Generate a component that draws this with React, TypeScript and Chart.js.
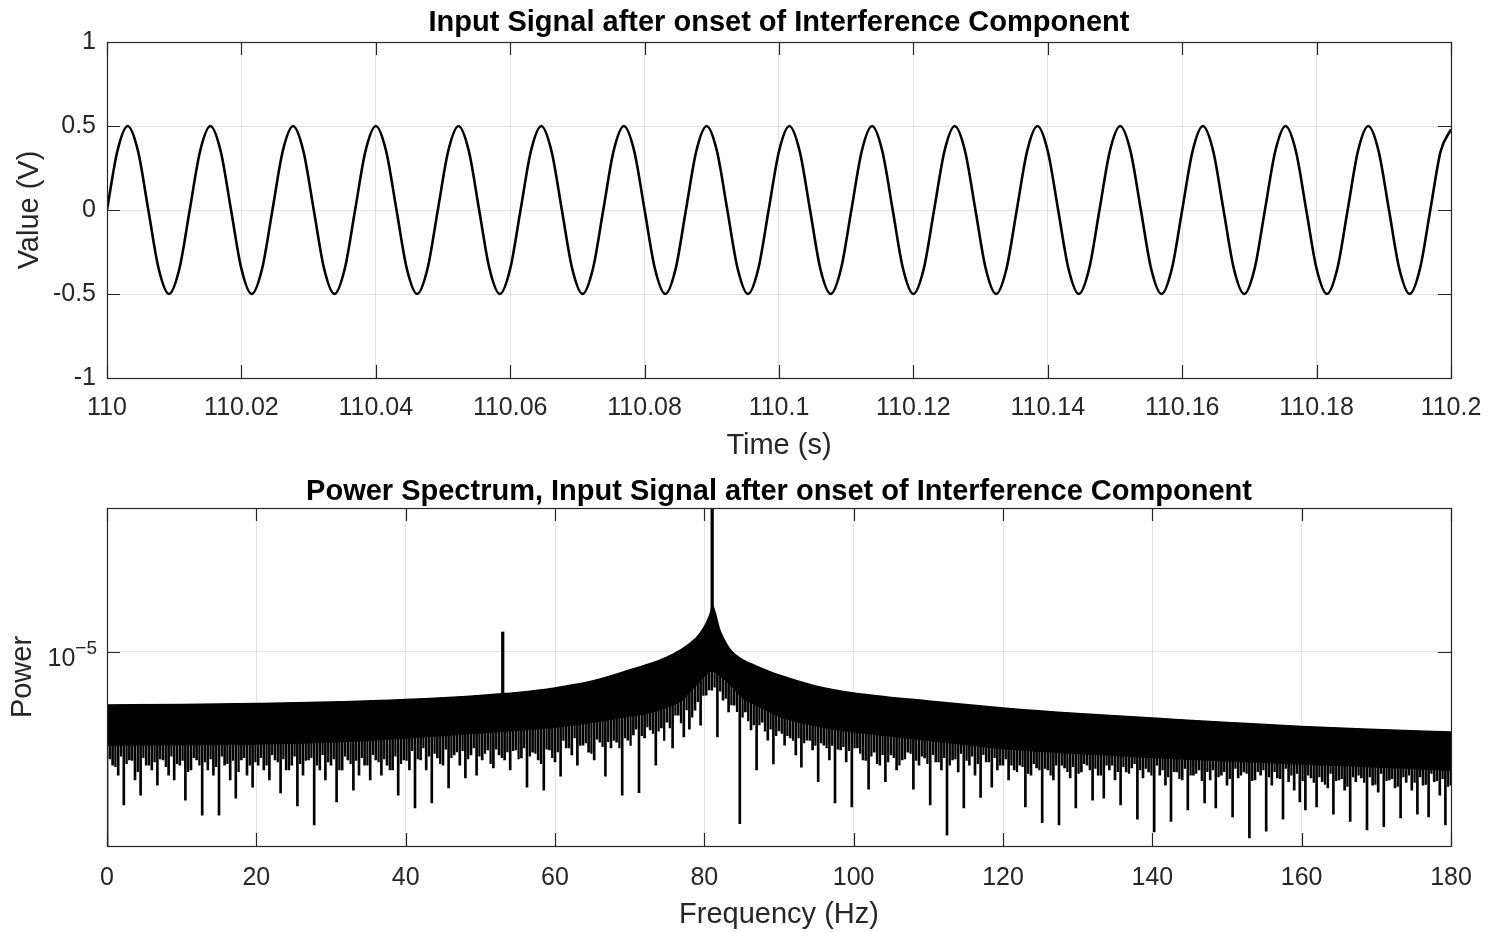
import React, { useEffect, useRef } from "react";
import { Chart, registerables } from "chart.js";

Chart.register(...registerables);

const FONT = "'Liberation Sans', Arial, Helvetica, sans-serif";
const TEXT = "#262626";
const GRID = "rgba(0,0,0,0.11)";
const AXIS = "#262626";
const MICRO = 1e-6;

// ---------- Top panel: input signal ----------
const TOP_TITLE = "Input Signal after onset of Interference Component";
const TOP_X_TITLE = "Time (s)";
const TOP_Y_TITLE = "Value (V)";
const TIME_ORIGIN_S = 110;
// sample times in ms after 110 s
const SIGNAL_T_MS = [
  0, 1.54, 3.08, 4.62, 6.15, 7.69, 9.23, 10.77,
  12.31, 13.85, 15.38, 16.92, 18.46, 20.0, 21.54, 23.08,
  24.62, 26.15, 27.69, 29.23, 30.77, 32.31, 33.85, 35.38,
  36.92, 38.46, 40.0, 41.54, 43.08, 44.62, 46.15, 47.69,
  49.23, 50.77, 52.31, 53.85, 55.38, 56.92, 58.46, 60.0,
  61.54, 63.08, 64.62, 66.15, 67.69, 69.23, 70.77, 72.31,
  73.85, 75.38, 76.92, 78.46, 80.0, 81.54, 83.08, 84.62,
  86.15, 87.69, 89.23, 90.77, 92.31, 93.85, 95.38, 96.92,
  98.46, 100.0, 101.54, 103.08, 104.62, 106.15, 107.69, 109.23,
  110.77, 112.31, 113.85, 115.38, 116.92, 118.46, 120.0, 121.54,
  123.08, 124.62, 126.15, 127.69, 129.23, 130.77, 132.31, 133.85,
  135.38, 136.92, 138.46, 140.0, 141.54, 143.08, 144.62, 146.15,
  147.69, 149.23, 150.77, 152.31, 153.85, 155.38, 156.92, 158.46,
  160.0, 161.54, 163.08, 164.62, 166.15, 167.69, 169.23, 170.77,
  172.31, 173.85, 175.38, 176.92, 178.46, 180.0, 181.54, 183.08,
  184.62, 186.15, 187.69, 189.23, 190.77, 192.31, 193.85, 195.38,
  196.92, 198.46, 200.0,
];
const SIGNAL_V = [
  0, 0.35, 0.5, 0.35, 0, -0.35, -0.5, -0.35,
  0, 0.35, 0.5, 0.35, 0, -0.35, -0.5, -0.35,
  0, 0.35, 0.5, 0.35, 0, -0.35, -0.5, -0.35,
  0, 0.35, 0.5, 0.35, 0, -0.35, -0.5, -0.35,
  0, 0.35, 0.5, 0.35, 0, -0.35, -0.5, -0.35,
  0, 0.35, 0.5, 0.35, 0, -0.35, -0.5, -0.35,
  0, 0.35, 0.5, 0.35, 0, -0.35, -0.5, -0.35,
  0, 0.35, 0.5, 0.35, 0, -0.35, -0.5, -0.35,
  0, 0.35, 0.5, 0.35, 0, -0.35, -0.5, -0.35,
  0, 0.35, 0.5, 0.35, 0, -0.35, -0.5, -0.35,
  0, 0.35, 0.5, 0.35, 0, -0.35, -0.5, -0.35,
  0, 0.35, 0.5, 0.35, 0, -0.35, -0.5, -0.35,
  0, 0.35, 0.5, 0.35, 0, -0.35, -0.5, -0.35,
  0, 0.35, 0.5, 0.35, 0, -0.35, -0.5, -0.35,
  0, 0.35, 0.5, 0.35, 0, -0.35, -0.5, -0.35,
  0, 0.35, 0.5, 0.35, 0, -0.35, -0.5, -0.35,
  0, 0.35, 0.48,
];
const TIME_TICKS = [110, 110.02, 110.04, 110.06, 110.08, 110.1, 110.12, 110.14, 110.16, 110.18, 110.2];
const TIME_TICK_LABELS = ["110", "110.02", "110.04", "110.06", "110.08", "110.1", "110.12", "110.14", "110.16", "110.18", "110.2"];
const VALUE_TICKS = [-1, -0.5, 0, 0.5, 1];
const VALUE_TICK_LABELS = ["-1", "-0.5", "0", "0.5", "1"];

// ---------- Bottom panel: power spectrum ----------
const BOTTOM_TITLE = "Power Spectrum, Input Signal after onset of Interference Component";
const BOTTOM_X_TITLE = "Frequency (Hz)";
const BOTTOM_Y_TITLE = "Power";
// envelope of the dense spectrum band (values in 1e-6 units)
const ENV_HZ = [0, 10, 20, 30, 40, 50, 55, 60, 65, 70, 73, 75, 77, 78, 79, 80, 80.5, 80.9, 81.05, 81.2, 81.5, 82, 82.5, 83.5, 85, 87, 90, 95, 100, 110, 120, 130, 140, 150, 160, 170, 180];
const ENV_TOP_U = [5.59, 5.62, 5.68, 5.77, 5.93, 6.2, 6.4, 6.73, 7.26, 8.19, 8.84, 9.43, 10.3, 10.9, 11.7, 13.1, 14.3, 15.6, 16.6, 16.3, 15.1, 12.9, 11.7, 10.2, 9.23, 8.55, 7.75, 6.87, 6.37, 5.84, 5.41, 5.09, 4.85, 4.62, 4.42, 4.28, 4.16];
const ENV_BOTTOM_U = [3.61, 3.63, 3.65, 3.73, 3.9, 4.12, 4.25, 4.39, 4.64, 4.96, 5.18, 5.47, 5.9, 6.44, 7.02, 7.67, 7.95, 8.1, 8.15, 8.1, 8.0, 7.75, 7.5, 7.0, 6.1, 5.58, 4.96, 4.45, 4.17, 3.81, 3.48, 3.3, 3.15, 3.04, 2.94, 2.84, 2.75];
// narrow spectral lines: interference at 53 Hz and the main tone at 81 Hz
const LINE_HZ = [53.0, 81.05];
const LINE_FOOT_U = [5.0, 15.0];
const LINE_PEAK_U = [12.4, 100];
// low bins (sidelobe minima) hanging below the band
const SPIKE_HZ = [
  0, 0.75, 1.5, 2.25, 3, 3.75, 4.5, 5.25, 6, 6.75, 7.5, 8.25,
  9, 9.75, 10.5, 11.25, 12, 12.75, 13.5, 14.25, 15, 15.75, 16.5, 17.25,
  18, 18.75, 19.5, 20.25, 21, 21.75, 22.5, 23.25, 24, 24.75, 25.5, 26.25,
  27, 27.75, 28.5, 29.25, 30, 30.75, 31.5, 32.25, 33, 33.75, 34.5, 35.25,
  36, 36.75, 37.5, 38.25, 39, 39.75, 40.5, 41.25, 42, 42.75, 43.5, 44.25,
  45, 45.75, 46.5, 47.25, 48, 48.75, 49.5, 50.25, 51, 51.75, 52.5, 53.25,
  54, 54.75, 55.5, 56.25, 57, 57.75, 58.5, 59.25, 60, 60.75, 61.5, 62.25,
  63, 63.75, 64.5, 65.25, 66, 66.75, 67.5, 68.25, 69, 69.75, 70.5, 71.25,
  72, 72.75, 73.5, 74.25, 75, 75.75, 76.5, 77.25, 78, 78.75, 79.5, 80.25,
  81, 81.75, 82.5, 83.25, 84, 84.75, 85.5, 86.25, 87, 87.75, 88.5, 89.25,
  90, 90.75, 91.5, 92.25, 93, 93.75, 94.5, 95.25, 96, 96.75, 97.5, 98.25,
  99, 99.75, 100.5, 101.25, 102, 102.75, 103.5, 104.25, 105, 105.75, 106.5, 107.25,
  108, 108.75, 109.5, 110.25, 111, 111.75, 112.5, 113.25, 114, 114.75, 115.5, 116.25,
  117, 117.75, 118.5, 119.25, 120, 120.75, 121.5, 122.25, 123, 123.75, 124.5, 125.25,
  126, 126.75, 127.5, 128.25, 129, 129.75, 130.5, 131.25, 132, 132.75, 133.5, 134.25,
  135, 135.75, 136.5, 137.25, 138, 138.75, 139.5, 140.25, 141, 141.75, 142.5, 143.25,
  144, 144.75, 145.5, 146.25, 147, 147.75, 148.5, 149.25, 150, 150.75, 151.5, 152.25,
  153, 153.75, 154.5, 155.25, 156, 156.75, 157.5, 158.25, 159, 159.75, 160.5, 161.25,
  162, 162.75, 163.5, 164.25, 165, 165.75, 166.5, 167.25, 168, 168.75, 169.5, 170.25,
  171, 171.75, 172.5, 173.25, 174, 174.75, 175.5, 176.25, 177, 177.75, 178.5, 179.25,
  180,
];
const SPIKE_LOW_U = [
  0.5, 2.9, 2.6, 1.88, 3.07, 2.47, 2.09, 2.9, 2.75, 2.33, 3.07, 2.6,
  2.47, 2.9, 1.98, 2.75, 3.07, 1.68, 2.75, 2.6, 1.68, 2.9, 2.47, 2.02,
  3.07, 2.6, 2.28, 2.9, 2.75, 2.47, 3.07, 2.14, 2.75, 2.9, 1.86, 2.6,
  3.07, 1.51, 2.75, 2.47, 2.9, 1.94, 2.75, 3.07, 2.21, 2.6, 2.9, 2.47,
  3.07, 2.6, 2.9, 2.75, 2.09, 3.07, 2.75, 1.82, 3.07, 2.75, 1.92, 3.14,
  2.9, 2.26, 3.24, 2.9, 2.52, 3.24, 2.6, 3.07, 3.42, 2.81, 3.24, 3.07,
  2.75, 3.42, 3.14, 2.28, 3.34, 3.07, 2.21, 3.42, 3.0, 2.57, 3.5, 3.24,
  2.9, 3.61, 3.34, 3.07, 3.73, 2.57, 3.5, 3.73, 2.09, 3.81, 4.03, 2.15,
  3.9, 4.26, 2.9, 4.35, 4.64, 3.5, 5.01, 3.95, 4.3, 5.29, 4.49, 6.23,
  6.58, 3.95, 5.9, 5.18, 5.58, 1.53, 5.18, 4.26, 2.75, 4.64, 3.81, 2.94,
  4.21, 3.61, 3.9, 3.24, 2.84, 3.81, 3.42, 2.42, 3.61, 3.07, 1.92, 3.42,
  3.0, 1.84, 3.5, 3.07, 2.23, 3.34, 2.9, 2.42, 3.24, 2.75, 3.07, 3.34,
  2.23, 2.9, 3.14, 1.88, 3.0, 2.75, 1.35, 3.07, 2.69, 1.82, 2.9, 2.6,
  2.04, 3.0, 2.28, 2.75, 2.9, 2.47, 2.75, 2.9, 1.84, 2.6, 2.81, 1.55,
  2.75, 2.47, 1.51, 2.81, 2.52, 1.82, 2.69, 2.9, 1.98, 2.6, 2.02, 2.75,
  2.47, 1.88, 2.69, 2.81, 1.61, 2.52, 2.69, 1.4, 2.6, 2.33, 1.57, 2.69,
  2.47, 1.78, 2.6, 2.75, 1.92, 2.47, 1.82, 2.6, 2.33, 1.65, 2.52, 2.69,
  1.31, 2.47, 2.6, 1.41, 2.33, 2.52, 1.61, 2.42, 2.21, 1.94, 1.78, 2.52,
  1.84, 2.42, 2.26, 1.7, 2.47, 2.21, 1.57, 2.42, 2.52, 1.43, 2.33, 2.16,
  1.48, 2.47, 2.26, 1.63, 2.4, 2.21, 1.7, 2.33, 1.65, 2.42, 2.09, 1.51,
  2.33,
];
// shallower bins in between (the dense fringe under the band)
const FRINGE_HZ = [
  0.375, 1.125, 1.875, 2.625, 3.375, 4.125, 4.875, 5.625, 6.375, 7.125, 7.875, 8.625,
  9.375, 10.125, 10.875, 11.625, 12.375, 13.125, 13.875, 14.625, 15.375, 16.125, 16.875, 17.625,
  18.375, 19.125, 19.875, 20.625, 21.375, 22.125, 22.875, 23.625, 24.375, 25.125, 25.875, 26.625,
  27.375, 28.125, 28.875, 29.625, 30.375, 31.125, 31.875, 32.625, 33.375, 34.125, 34.875, 35.625,
  36.375, 37.125, 37.875, 38.625, 39.375, 40.125, 40.875, 41.625, 42.375, 43.125, 43.875, 44.625,
  45.375, 46.125, 46.875, 47.625, 48.375, 49.125, 49.875, 50.625, 51.375, 52.125, 52.875, 53.625,
  54.375, 55.125, 55.875, 56.625, 57.375, 58.125, 58.875, 59.625, 60.375, 61.125, 61.875, 62.625,
  63.375, 64.125, 64.875, 65.625, 66.375, 67.125, 67.875, 68.625, 69.375, 70.125, 70.875, 71.625,
  72.375, 73.125, 73.875, 74.625, 75.375, 76.125, 76.875, 77.625, 78.375, 79.125, 79.875, 80.625,
  81.375, 82.125, 82.875, 83.625, 84.375, 85.125, 85.875, 86.625, 87.375, 88.125, 88.875, 89.625,
  90.375, 91.125, 91.875, 92.625, 93.375, 94.125, 94.875, 95.625, 96.375, 97.125, 97.875, 98.625,
  99.375, 100.125, 100.875, 101.625, 102.375, 103.125, 103.875, 104.625, 105.375, 106.125, 106.875, 107.625,
  108.375, 109.125, 109.875, 110.625, 111.375, 112.125, 112.875, 113.625, 114.375, 115.125, 115.875, 116.625,
  117.375, 118.125, 118.875, 119.625, 120.375, 121.125, 121.875, 122.625, 123.375, 124.125, 124.875, 125.625,
  126.375, 127.125, 127.875, 128.625, 129.375, 130.125, 130.875, 131.625, 132.375, 133.125, 133.875, 134.625,
  135.375, 136.125, 136.875, 137.625, 138.375, 139.125, 139.875, 140.625, 141.375, 142.125, 142.875, 143.625,
  144.375, 145.125, 145.875, 146.625, 147.375, 148.125, 148.875, 149.625, 150.375, 151.125, 151.875, 152.625,
  153.375, 154.125, 154.875, 155.625, 156.375, 157.125, 157.875, 158.625, 159.375, 160.125, 160.875, 161.625,
  162.375, 163.125, 163.875, 164.625, 165.375, 166.125, 166.875, 167.625, 168.375, 169.125, 169.875, 170.625,
  171.375, 172.125, 172.875, 173.625, 174.375, 175.125, 175.875, 176.625, 177.375, 178.125, 178.875, 179.625,
];
const FRINGE_LOW_U = [
  3.1, 2.85, 3.2, 2.95, 3.05, 2.7, 3.15, 2.9, 3.0, 3.1, 2.85, 3.2,
  2.95, 3.05, 2.7, 3.15, 2.9, 3.0, 3.1, 2.85, 3.2, 2.95, 3.05, 2.7,
  3.15, 2.9, 3.0, 3.15, 2.9, 3.25, 3.0, 3.1, 2.75, 3.2, 2.95, 3.05,
  3.15, 2.9, 3.25, 3.0, 3.1, 2.75, 3.2, 2.95, 3.05, 3.15, 2.9, 3.25,
  3.0, 3.1, 2.75, 3.2, 2.95, 3.05, 3.4, 3.1, 3.5, 3.2, 3.3, 2.95,
  3.45, 3.15, 3.35, 3.4, 3.1, 3.5, 3.2, 3.3, 2.95, 3.45, 3.15, 3.35,
  3.4, 3.1, 3.5, 3.2, 3.3, 2.95, 3.45, 3.15, 3.35, 3.8, 3.5, 3.9,
  3.6, 3.7, 3.3, 3.85, 3.55, 3.75, 3.8, 3.5, 3.9, 3.6, 4.3, 4.0,
  4.4, 4.1, 4.2, 3.8, 4.35, 5.0, 4.6, 5.3, 4.9, 5.8, 6.2, 6.6,
  6.8, 6.5, 6.0, 5.6, 5.2, 4.9, 4.7, 4.5, 4.5, 4.2, 4.3, 4.0,
  4.1, 4.0, 3.8, 3.9, 3.7, 3.8, 3.6, 3.7, 3.5, 3.6, 3.45, 3.55,
  3.4, 3.5, 3.3, 3.05, 3.2, 2.95, 3.25, 3.0, 3.15, 2.9, 3.1, 3.3,
  3.05, 3.2, 2.95, 3.25, 3.0, 3.15, 2.9, 3.1, 3.3, 3.05, 3.2, 2.95,
  3.25, 3.0, 3.15, 2.9, 3.1, 2.9, 2.7, 2.85, 2.65, 2.95, 2.75, 2.8,
  2.6, 2.9, 2.9, 2.7, 2.85, 2.65, 2.95, 2.75, 2.8, 2.6, 2.9, 2.9,
  2.7, 2.85, 2.65, 2.95, 2.75, 2.8, 2.6, 2.9, 2.75, 2.55, 2.7, 2.5,
  2.8, 2.6, 2.65, 2.45, 2.7, 2.75, 2.55, 2.7, 2.5, 2.8, 2.6, 2.65,
  2.45, 2.7, 2.75, 2.55, 2.7, 2.5, 2.8, 2.6, 2.65, 2.45, 2.6, 2.4,
  2.55, 2.35, 2.65, 2.45, 2.5, 2.3, 2.55, 2.6, 2.4, 2.55, 2.35, 2.65,
  2.45, 2.5, 2.3, 2.55, 2.6, 2.4, 2.55, 2.35, 2.65, 2.45, 2.5, 2.3,
];
const FREQ_TICKS = [0, 20, 40, 60, 80, 100, 120, 140, 160, 180];
const FREQ_TICK_LABELS = ["0", "20", "40", "60", "80", "100", "120", "140", "160", "180"];
const POWER_MIN = 1.2e-6;
const POWER_MAX = 4.8e-5;
const POWER_TICKS = [1e-5];
const POWER_TICK_BASE = ["10"];
const POWER_TICK_EXP = ["\u22125"];

// MATLAB-style box with inward tick marks
const boxPlugin = {
  id: "matlabBox",
  afterDraw(chart: any) {
    const { ctx, chartArea: a, scales } = chart;
    const tl = 13;
    ctx.save();
    ctx.strokeStyle = AXIS;
    ctx.lineWidth = 1.2;
    ctx.beginPath();
    for (const t of scales.x.ticks) {
      const px = Math.round(scales.x.getPixelForValue(t.value)) + 0.5;
      ctx.moveTo(px, a.bottom);
      ctx.lineTo(px, a.bottom - tl);
      ctx.moveTo(px, a.top);
      ctx.lineTo(px, a.top + tl);
    }
    for (const t of scales.y.ticks) {
      const py = Math.round(scales.y.getPixelForValue(t.value)) + 0.5;
      ctx.moveTo(a.left, py);
      ctx.lineTo(a.left + tl, py);
      ctx.moveTo(a.right, py);
      ctx.lineTo(a.right - tl, py);
    }
    ctx.stroke();
    ctx.strokeRect(Math.round(a.left) + 0.5, Math.round(a.top) + 0.5, Math.round(a.right - a.left), Math.round(a.bottom - a.top));
    ctx.restore();
  },
};

// power-of-ten tick labels with a raised exponent
const expLabelPlugin = {
  id: "expLabels",
  afterDraw(chart: any) {
    const { ctx, scales } = chart;
    const ys = scales.y;
    ctx.save();
    ctx.fillStyle = TEXT;
    ctx.textAlign = "right";
    ctx.textBaseline = "alphabetic";
    ys.ticks.forEach((t: any, i: number) => {
      const py = ys.getPixelForValue(t.value);
      const right = ys.right - 10;
      ctx.font = `19px ${FONT}`;
      const ew = ctx.measureText(POWER_TICK_EXP[i]).width;
      ctx.fillText(POWER_TICK_EXP[i], right, py + 2.5);
      ctx.font = `25px ${FONT}`;
      ctx.fillText(POWER_TICK_BASE[i], right - ew, py + 14.5);
    });
    ctx.restore();
  },
};

function baseOptions(title: string, titlePad: any) {
  return {
    responsive: false,
    animation: false,
    events: [],
    layout: { padding: { left: 0, right: 38, top: 0, bottom: 0 } },
    plugins: {
      legend: { display: false },
      tooltip: { enabled: false },
      title: {
        display: true,
        text: title,
        fullSize: false,
        color: "#000",
        font: { family: FONT, size: 29, weight: "bold", lineHeight: 1 },
        padding: titlePad,
      },
    },
  };
}

function xFit(h: number) {
  return (s: any) => {
    s.height = h;
    s.paddingLeft = 0;
    s.paddingRight = 0;
  };
}

function topConfig(): any {
  const points = SIGNAL_T_MS.map((ms, i) => ({ x: TIME_ORIGIN_S + ms / 1000, y: SIGNAL_V[i] }));
  return {
    type: "line",
    data: {
      datasets: [
        {
          data: points,
          borderColor: "#000",
          borderWidth: 2.6,
          pointRadius: 0,
          fill: false,
          cubicInterpolationMode: "monotone",
        },
      ],
    },
    options: {
      ...baseOptions(TOP_TITLE, { top: 8.5, bottom: 4.5 }),
      scales: {
        x: {
          type: "linear",
          min: 110,
          max: 110.2,
          offset: false,
          afterBuildTicks: (s: any) => { s.ticks = TIME_TICKS.map((v) => ({ value: v })); },
          afterFit: xFit(88),
          grid: { color: GRID, drawTicks: false },
          border: { display: false },
          ticks: {
            callback: (_v: any, i: number) => TIME_TICK_LABELS[i],
            padding: 15,
            color: TEXT,
            maxRotation: 0,
            autoSkip: false,
            font: { family: FONT, size: 25 },
          },
          title: { display: true, text: TOP_X_TITLE, color: TEXT, font: { family: FONT, size: 29 }, padding: { top: 0, bottom: 3 } },
        },
        y: {
          type: "linear",
          min: -1,
          max: 1,
          afterBuildTicks: (s: any) => { s.ticks = VALUE_TICKS.map((v) => ({ value: v })); },
          afterFit: (s: any) => { s.width = 107; },
          grid: { color: GRID, drawTicks: false },
          border: { display: false },
          ticks: {
            callback: (_v: any, i: number) => VALUE_TICK_LABELS[i],
            padding: 11,
            color: TEXT,
            font: { family: FONT, size: 25 },
          },
          title: { display: true, text: TOP_Y_TITLE, color: TEXT, font: { family: FONT, size: 29 }, padding: { top: 13, bottom: 0 } },
        },
      },
    },
    plugins: [boxPlugin],
  };
}

function bottomConfig(): any {
  const top = ENV_HZ.map((f, i) => ({ x: f, y: ENV_TOP_U[i] * MICRO }));
  const bottom = ENV_HZ.map((f, i) => ({ x: f, y: ENV_BOTTOM_U[i] * MICRO }));
  const lines = LINE_HZ.map((f, i) => ({ x: f, y: [LINE_FOOT_U[i] * MICRO, LINE_PEAK_U[i] * MICRO] }));
  const spikes = SPIKE_HZ.map((f, i) => ({ x: f, y: SPIKE_LOW_U[i] * MICRO }));
  const fringe = FRINGE_HZ.map((f, i) => ({ x: f, y: FRINGE_LOW_U[i] * MICRO }));
  return {
    type: "line",
    data: {
      datasets: [
        {
          type: "line",
          data: top,
          borderColor: "#000",
          borderWidth: 1.5,
          backgroundColor: "#000",
          fill: 1,
          pointRadius: 0,
          cubicInterpolationMode: "monotone",
          order: 1,
          clip: 0,
        },
        {
          type: "line",
          data: bottom,
          borderColor: "#000",
          borderWidth: 1.5,
          fill: false,
          pointRadius: 0,
          cubicInterpolationMode: "monotone",
          order: 1,
          clip: 0,
        },
        {
          type: "line",
          data: top,
          borderColor: "rgba(0,0,0,0)",
          borderWidth: 0,
          backgroundColor: "#ffffff",
          fill: "end",
          pointRadius: 0,
          cubicInterpolationMode: "monotone",
          order: 2,
          clip: 0,
        },
        {
          type: "bar",
          data: spikes,
          backgroundColor: "#000",
          barThickness: 2,
          base: 1e-3,
          grouped: false,
          order: 3,
          clip: 0,
        },
        {
          type: "bar",
          data: fringe,
          backgroundColor: "#000",
          barThickness: 1.6,
          base: 1e-3,
          grouped: false,
          order: 4,
          clip: 0,
        },
        {
          type: "bar",
          data: lines,
          backgroundColor: "#000",
          barThickness: 2.6,
          grouped: false,
          order: 0,
          clip: 0,
        },
      ],
    },
    options: {
      ...baseOptions(BOTTOM_TITLE, { top: 11, bottom: 2 }),
      scales: {
        x: {
          type: "linear",
          min: 0,
          max: 180,
          offset: false,
          afterBuildTicks: (s: any) => { s.ticks = FREQ_TICKS.map((v) => ({ value: v })); },
          afterFit: xFit(86),
          grid: { color: GRID, drawTicks: false, z: 1, offset: false },
          border: { display: false },
          ticks: {
            callback: (_v: any, i: number) => FREQ_TICK_LABELS[i],
            padding: 17,
            color: TEXT,
            maxRotation: 0,
            autoSkip: false,
            font: { family: FONT, size: 25 },
          },
          title: { display: true, text: BOTTOM_X_TITLE, color: TEXT, font: { family: FONT, size: 29 }, padding: { top: 0, bottom: 0 } },
        },
        y: {
          type: "logarithmic",
          min: POWER_MIN,
          max: POWER_MAX,
          afterBuildTicks: (s: any) => { s.ticks = POWER_TICKS.map((v) => ({ value: v })); },
          afterFit: (s: any) => { s.width = 107; },
          grid: { color: GRID, drawTicks: false, z: 1 },
          border: { display: false },
          ticks: { display: false },
          title: { display: true, text: BOTTOM_Y_TITLE, color: TEXT, font: { family: FONT, size: 29 }, padding: { top: 6, bottom: 0 } },
        },
      },
    },
    plugins: [boxPlugin, expLabelPlugin],
  };
}

export default function App() {
  const topRef = useRef<HTMLCanvasElement | null>(null);
  const bottomRef = useRef<HTMLCanvasElement | null>(null);

  useEffect(() => {
    const c1 = new Chart(topRef.current as any, topConfig());
    const c2 = new Chart(bottomRef.current as any, bottomConfig());
    return () => {
      c1.destroy();
      c2.destroy();
    };
  }, []);

  return (
    <div style={{ position: "absolute", left: 0, top: 0, width: 1489, height: 932, background: "#fff" }}>
      <canvas ref={topRef} width={1489} height={466} style={{ display: "block", width: 1489, height: 466 }} />
      <canvas ref={bottomRef} width={1489} height={466} style={{ display: "block", width: 1489, height: 466 }} />
    </div>
  );
}
